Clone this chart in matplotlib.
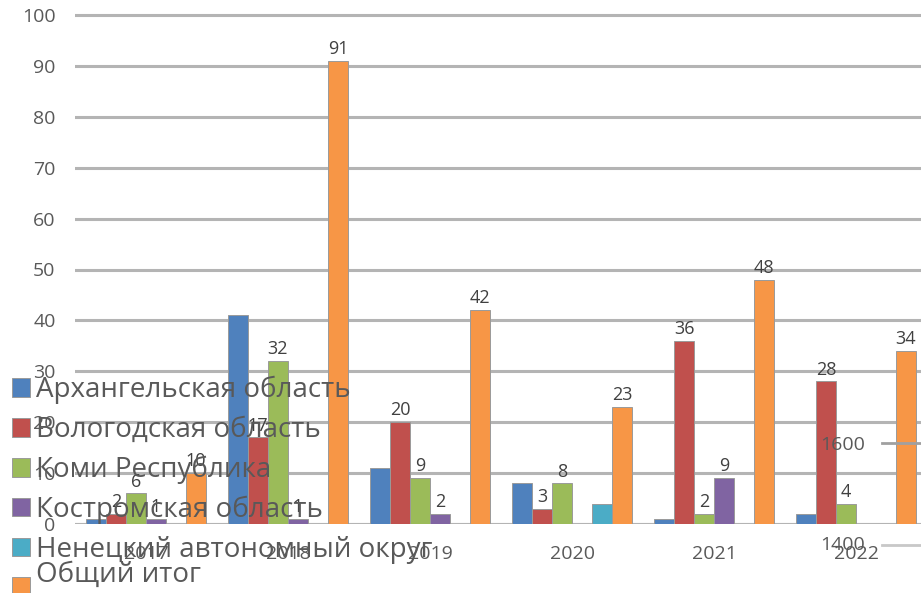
import numpy as np
import matplotlib
matplotlib.use("Agg")
from matplotlib import pyplot as plt

plt.rcParams['font.family'] = ['Open Sans', 'DejaVu Sans']

years = ['2017', '2018', '2019', '2020', '2021', '2022']
series_names = ['Архангельская область', 'Вологодская область', 'Коми Республика',
                'Костромская область', 'Ненецкий автономный округ', 'Общий итог']
arkh = [1, 41, 11, 8, 1, 2]
volog = [2, 17, 20, 3, 36, 28]
komi = [6, 32, 9, 8, 2, 4]
kostroma = [1, 1, 2, 0, 9, 0]
nenets = [0, 0, 0, 4, 0, 0]
total = [10, 91, 42, 23, 48, 34]
labelled = [False, True, True, True, False, True]

colors = ['#4f81bd', '#c0504d', '#9bbb59', '#8064a2', '#4bacc6', '#f79646']
values = [arkh, volog, komi, kostroma, nenets, total]

W, H = 921, 593
fig = plt.figure(figsize=(W / 100, H / 100), dpi=100)
# axes: x from 75 px to right edge, y=0 at 524 px, 100 at 15 px
px_per_unit = 509 / 100
top_val = 102
ax = fig.add_axes([75 / W, (H - 524) / H, (W - 75) / W, top_val * px_per_unit / H])

x = np.arange(len(years))
cat_px = 142
bw = 20 / cat_px
ax.set_xlim(-0.5, -0.5 + (W - 75) / cat_px)
ax.set_ylim(0, top_val)

bars = []
for j, (vals, col, name) in enumerate(zip(values, colors, series_names)):
    b = ax.bar(x + (j - 2.5) * bw, vals, bw, color=col, edgecolor='#9a9a9a',
               linewidth=0.7, label=name, zorder=3)
    bars.append(b)
    if labelled[j]:
        for xi, v in zip(x + (j - 2.5) * bw, vals):
            if v > 0:
                ax.annotate(str(v), (xi, v), xytext=(0, 2), textcoords='offset points',
                            ha='center', va='bottom', fontsize=13, color='#404040',
                            zorder=4)

ax.set_yticks(range(0, 101, 10))
ax.yaxis.grid(True, color='#b4b4b4', linewidth=2.2, zorder=0)
ax.set_axisbelow(True)
for s in ax.spines.values():
    s.set_visible(False)
ax.axhline(0, color='#b4b4b4', linewidth=2.2, zorder=2)
ax.tick_params(axis='both', length=0, labelsize=14, labelcolor='#595959')
ax.tick_params(axis='y', pad=14)
ax.tick_params(axis='x', pad=15)
ax.set_xticks(x)
ax.set_xticklabels(years)

# stray labels from a neighbouring chart
fig.text(820 / W, 1 - 445 / H, '1600', fontsize=14, color='#595959', va='center', ha='left')
fig.text(820 / W, 1 - 545 / H, '1400', fontsize=14, color='#595959', va='center', ha='left')
fig.add_artist(plt.Line2D([882 / W, 1], [1 - 443 / H, 1 - 443 / H], color='#a0a0a0', lw=2))
fig.add_artist(plt.Line2D([882 / W, 1], [1 - 545 / H, 1 - 545 / H], color='#c8c8c8', lw=2))

leg = fig.legend(handles=bars, labels=series_names, loc='upper left',
                 bbox_to_anchor=(12 / W, 1 - 376 / H), frameon=False, fontsize=20,
                 labelcolor='#595959', handlelength=0.65, handleheight=0.65,
                 handletextpad=0.2, labelspacing=0.42, borderaxespad=0, borderpad=0)
# last entry text sits higher than its marker in the original
leg.get_texts()[-1].set_y(14)

fig.savefig('out.png', dpi=100)
